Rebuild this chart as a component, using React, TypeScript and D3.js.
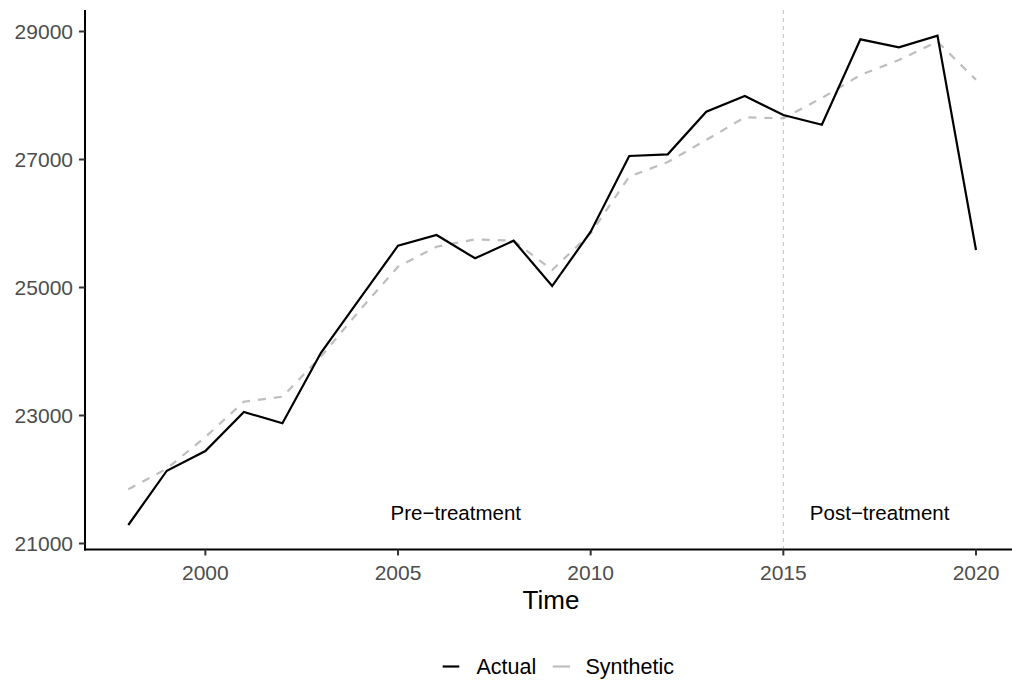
import React from "react";
import * as d3 from "d3";

const years = d3.range(1998, 2021);
const actual = [
  21289, 22137, 22445, 23055, 22878, 23980, 24820, 25653, 25820, 25456, 25731,
  25023, 25872, 27055, 27081, 27747, 27992, 27695, 27543, 28878, 28753, 28935, 25586,
];
const synthetic = [
  21847, 22170, 22664, 23216, 23294, 23920, 24640, 25325, 25637, 25753, 25731,
  25273, 25847, 26732, 26960, 27305, 27660, 27644, 27960, 28320, 28555, 28841, 28245,
];
const yTicks = [21000, 23000, 25000, 27000, 29000];
const xTicks = [2000, 2005, 2010, 2015, 2020];
const treatmentYear = 2015;
const annotations = [
  { label: "Pre\u2212treatment", year: 2006.5, value: 21480 },
  { label: "Post\u2212treatment", year: 2017.5, value: 21480 },
];
const seriesNames = ["Actual", "Synthetic"];

const W = 1012;
const H = 680;
const FONT = "'Liberation Sans', Arial, Helvetica, sans-serif";

export default function App() {
  const x = d3.scaleLinear().domain([1998, 2020]).range([128.3, 976]);
  const y = d3.scaleLinear().domain([21000, 29000]).range([543.5, 31.5]);
  const panelLeft = 85;
  const panelRight = 1012;
  const panelTop = 10;
  const panelBottom = 549.5;

  const line = d3
    .line<number>()
    .x((_, i) => x(years[i]))
    .y((d) => y(d));

  return (
    <div style={{ position: "fixed", left: 0, top: 0 }}>
      <svg width={W} height={H} style={{ display: "block", background: "#fff" }} fontFamily={FONT}>
        {/* treatment line */}
        <line
          x1={x(treatmentYear)}
          x2={x(treatmentYear)}
          y1={panelTop}
          y2={panelBottom}
          stroke="#BEBEBE"
          strokeWidth={1}
          strokeDasharray="4,4"
        />
        {/* annotations */}
        {annotations.map((a) => (
          <text
            key={a.label}
            x={x(a.year)}
            y={y(a.value)}
            dy="0.36em"
            textAnchor="middle"
            fontSize={20.5}
            fill="#000"
          >
            {a.label}
          </text>
        ))}
        {/* series */}
        <path
          d={line(synthetic) || ""}
          fill="none"
          stroke="#BEBEBE"
          strokeWidth={2.2}
          strokeDasharray="8,8"
        />
        <path d={line(actual) || ""} fill="none" stroke="#000" strokeWidth={2.2} />

        {/* y axis */}
        <line x1={panelLeft} x2={panelLeft} y1={panelTop} y2={panelBottom + 1} stroke="#000" strokeWidth={2} />
        {yTicks.map((t) => (
          <g key={t}>
            <line x1={panelLeft - 6} x2={panelLeft} y1={y(t)} y2={y(t)} stroke="#333" strokeWidth={2} />
            <text
              x={panelLeft - 12}
              y={y(t)}
              dy="0.36em"
              textAnchor="end"
              fontSize={21}
              fill="#4D4D4D"
            >
              {t}
            </text>
          </g>
        ))}
        {/* x axis */}
        <line x1={panelLeft - 1} x2={panelRight} y1={panelBottom} y2={panelBottom} stroke="#000" strokeWidth={2} />
        {xTicks.map((t) => (
          <g key={t}>
            <line x1={x(t)} x2={x(t)} y1={panelBottom} y2={panelBottom + 6} stroke="#333" strokeWidth={2} />
            <text x={x(t)} y={579.5} textAnchor="middle" fontSize={21} fill="#4D4D4D">
              {t}
            </text>
          </g>
        ))}
        <text x={551} y={608.5} textAnchor="middle" fontSize={26} fill="#000">
          Time
        </text>

        {/* legend */}
        <line x1={442.7} x2={459.3} y1={666.5} y2={666.5} stroke="#000" strokeWidth={2.2} />
        <text x={476.5} y={674.3} fontSize={21.5} fill="#000">
          {seriesNames[0]}
        </text>
        <line x1={552.7} x2={570} y1={666.5} y2={666.5} stroke="#BEBEBE" strokeWidth={2.2} />
        <text x={585.5} y={674.3} fontSize={21.5} fill="#000">
          {seriesNames[1]}
        </text>
      </svg>
    </div>
  );
}
